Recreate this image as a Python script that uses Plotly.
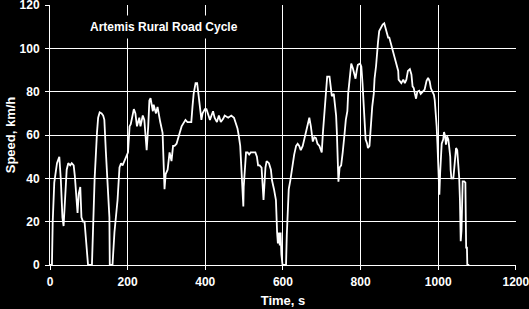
import plotly.graph_objects as go

time_s = [0,5,7,11,18,24,28,32,35,38,43,47,52,56,61,64,68,71,74,78,81,85,89,94,98,108,110,115,121,124,128,133,137,140,144,148,153,154,161,166,174,179,183,187,196,201,205,208,216,220,224,230,233,239,243,247,249,253,256,259,265,267,273,277,282,284,290,293,295,298,300,303,308,313,317,321,326,330,334,339,343,349,354,360,364,367,370,375,379,383,387,390,393,399,403,407,412,416,420,424,430,435,440,446,450,459,467,474,478,483,486,490,492,494,496,498,499,502,505,509,513,517,523,529,533,536,540,545,547,550,552,555,558,564,569,572,577,582,585,587,590,592,594,596,599,608,610,613,615,619,623,626,629,634,638,642,646,651,655,659,664,668,672,677,681,685,689,694,698,700,703,706,709,712,714,720,724,726,731,733,737,739,742,743,746,750,754,757,759,762,766,768,772,776,780,783,787,790,793,799,802,805,808,811,813,817,819,823,825,828,830,834,836,840,842,845,848,852,857,861,866,871,874,878,881,885,890,893,897,898,903,905,910,914,918,922,927,931,934,937,940,943,946,951,955,960,965,970,974,978,981,985,989,991,994,996,998,1000,1002,1003,1005,1007,1009,1013,1015,1018,1020,1023,1026,1028,1031,1032,1034,1039,1041,1044,1046,1049,1051,1054,1056,1057,1058,1060,1062,1063,1067,1070,1071,1072,1074,1075,1080]
speed_kmh = [0,0,20,38,47,50,39,22,18,30,44,47,46,47,46,41,32,24,33,36,22,20,20,9,0,0,15,40,61,68,70.5,70,69,67,52,40,22,0,0,15,30,45,47,46,50,52,64,65,72,70,64,68,64,69,67,55,53,64,76,77,71,74,70,73,67,66,61,45,35,42,43,44,52,48,55,55,56,59,61,64,65.5,67,66,66,66,73,79,84,84,78,73,67,70,72,72,70,67,69,71,68,66,69,66,67.5,69,68,69,68,66,63,60,55,48,39,32,27,36,45,52,52,51,52,52,52,50,46,46,45,39,30,36,45,48,47,44,39,35,30,15,10,15,9,15,5,0,0,14,26,35,39,44,48,51,55,56,55,53,55,58,61,65.5,68,64,57,59,58.6,56,55,53,52,61,69,75,82,87,87,81,78,79,76,69,61,39,38.5,45,46,52,56,61,67,71,79,87,93,91,88.6,86,89.6,92.4,93,91.6,84,76,64,58,56,54,55,61,67,73,79,86,92,99,103,108,109.5,111,111.6,108,105,105,102.5,99.5,97,94.7,92.4,89.6,85.6,84,84,85.6,84,85.6,89.6,90.4,88,82.5,81.7,79,76.8,80,80.5,79,80,81,85,86.4,84.8,81.7,80,78.6,76.3,70,64,56,42.5,36,32.4,42.5,52.4,56,58,61.4,59.4,55.6,59.4,58,55,50,44,40,40,44,50,54,53,48.5,40.5,30,19.5,11,16,30,38.6,38.6,38,22.4,8,8,0,0]

x_ticks = [0, 200, 400, 600, 800, 1000, 1200]
y_ticks = [0, 20, 40, 60, 80, 100, 120]
chart_title = "Artemis Rural Road Cycle"

FONT = "Liberation Sans, Arial, sans-serif"

fig = go.Figure()
fig.add_trace(go.Scatter(x=time_s, y=speed_kmh, mode="lines",
                         line=dict(color="white", width=1.8), showlegend=False,
                         hoverinfo="skip"))

fig.add_annotation(x=293, y=110, xref="x", yref="y", text="<b>" + chart_title + "</b>",
                   showarrow=False, bgcolor="black", borderpad=4,
                   font=dict(family=FONT, size=12, color="white"))

axis_common = dict(showgrid=True, gridcolor="white", gridwidth=1,
                   showline=True, linecolor="white", linewidth=1,
                   ticks="outside", ticklen=4, tickcolor="white", tickwidth=1,
                   zeroline=False, ticklabeloverflow="allow",
                   tickfont=dict(family=FONT, size=12, color="white", weight="bold"))

fig.update_xaxes(range=[0, 1200.4], tickvals=x_ticks, ticktext=[str(v) for v in x_ticks],
                 ticklabelstandoff=2,
                 title=dict(text="<b>Time, s</b>", font=dict(family=FONT, size=13, color="white"),
                            standoff=7),
                 **axis_common)
fig.update_yaxes(range=[0, 120.05], tickvals=y_ticks, ticktext=[str(v) for v in y_ticks],
                 ticklabelstandoff=3,
                 title=dict(text="<b>Speed, km/h</b>", font=dict(family=FONT, size=13, color="white"),
                            standoff=1),
                 **axis_common)

fig.update_layout(width=529, height=309, paper_bgcolor="black", plot_bgcolor="black",
                  margin=dict(l=50, r=13, t=5, b=44, autoexpand=False))

fig.write_html("out.html")
